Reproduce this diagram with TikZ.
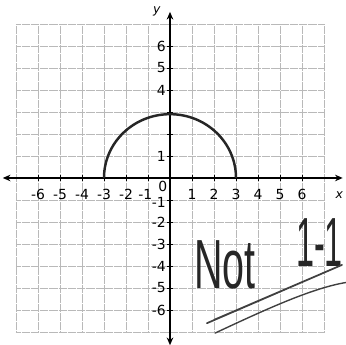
\documentclass[tikz,border=0pt]{standalone}
\usepackage{fontspec}
\usepackage{tikz}
\usetikzlibrary{positioning,arrows.meta}
\newfontfamily\labelfont{DejaVu Sans}
\newfontfamily\handfont{Liberation Sans}

\begin{document}
\begin{tikzpicture}[
      gridline/.style={densely dotted, gray!55, line width=0.45pt},
      axis/.style={{Stealth[length=3.5mm,width=3mm]}-{Stealth[length=3.5mm,width=3mm]}, line width=1.6pt},
      tick/.style={line width=0.8pt},
      lbl/.style={font=\labelfont\fontsize{18}{18}\selectfont, inner sep=1pt},
      curve/.style={line width=3.2pt, black!85},
      hand/.style={text=black!85, xscale=0.85, yscale=1.5, transform shape,
                   font=\handfont\fontsize{60}{60}\selectfont, inner sep=0pt},
      scrawl/.style={line width=2.2pt, black!75, line cap=round, line join=round}
  ]
  \useasboundingbox (-7.727,-7.59) rectangle (8.0,8.09);

  %% ---- Grid ----
  \draw[gridline] (-7,-7) grid (7,7);

  %% ---- Axes ----
  \coordinate (xl) at (-7.6,0);
  \coordinate (xr) at (7.85,0);
  \coordinate (yb) at (0,-7.6);
  \coordinate (yt) at (0,7.55);
  \draw[axis] (xl) -- (xr);
  \draw[axis] (yb) -- (yt);
  \node[lbl, font=\labelfont\itshape\fontsize{16}{16}\selectfont] (xname) at (7.7,-0.8) {x};
  \node[lbl, font=\labelfont\itshape\fontsize{16}{16}\selectfont] (yname) at (-0.6,7.55) {y};

  %% ---- Ticks and labels ----
  \foreach \i in {-6,...,-1,1,2,...,6} {
    \draw[tick] (\i,-0.12) -- (\i,0.12);
    \draw[tick] (-0.12,\i) -- (0.12,\i);
  }
  \foreach \i in {-6,...,-2,1,2,...,6}
    \node[lbl] (xt\i) at (\i,-0.75) {\i};
  \node[lbl] (xt-1) at (-1.12,-0.75) {-1};
  \foreach \j in {6,5,4,1,-2,-3,-4,-5,-6}
    \node[lbl, anchor=east] (yt\j) at (-0.15,\j) {\j};
  \node[lbl, anchor=east] (yt-1) at (-0.15,-1.12) {-1};
  \node[lbl, inner sep=0pt] (orig) at (-0.33,-0.4) {0};

  %% ---- Semicircle ----
  \draw[curve] (-3,0) arc[start angle=180, end angle=0, x radius=3, y radius=2.9];

  %% ---- Handwritten note ----
  \node[hand] (not) at (2.5,-3.95) {Not};
  \node[hand, xscale=0.82] (oneone) at (6.8,-2.95) {1-1};
  \draw[scrawl] (1.68,-6.6) -- (7.82,-3.95) -- (2.0,-6.45);
  \draw[scrawl, line width=1.8pt] (2.05,-7.05) .. controls (4.5,-5.9) and (6.5,-5.0) .. (8.0,-4.75);

\end{tikzpicture}
\end{document}
